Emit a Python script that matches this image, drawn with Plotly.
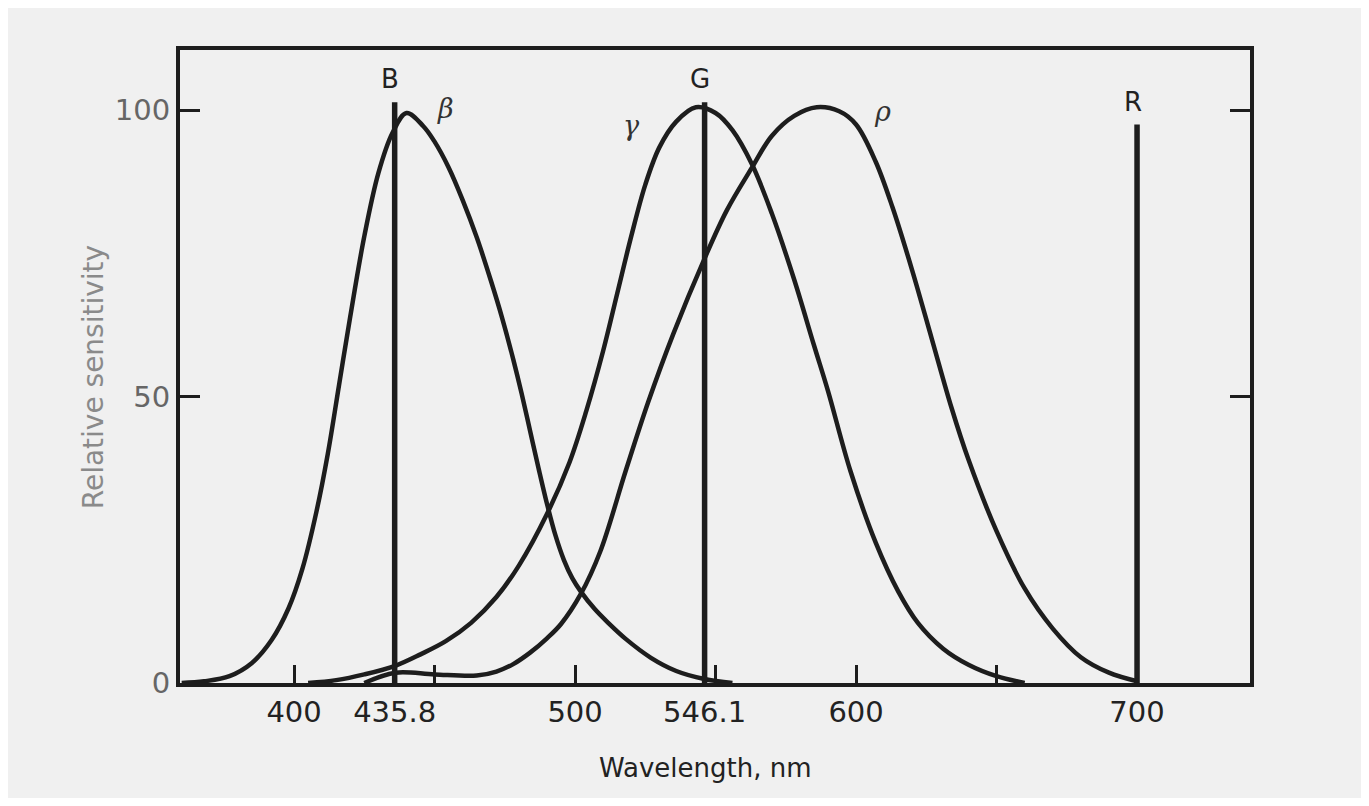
import plotly.graph_objects as go

# ── Data (wavelength nm, relative sensitivity) ────────────────────────────────

beta_nm  = [360, 368, 377, 385, 392, 398, 403, 408, 412, 416, 420, 425, 430,
            435, 440, 446, 450, 455, 460, 465, 470, 474, 478, 481, 484, 487,
            490, 493, 496, 499, 502, 507, 512, 518, 527, 536, 546, 556]
beta_val = [0, 0.3, 1.2, 3.5, 7.5, 13, 20, 30, 40, 52, 64, 78, 89,
            96, 99.5, 97.2, 94.5, 90, 84.3, 77.8, 70.3, 63.8, 56.5, 50.5, 44, 37.5,
            31.3, 25.8, 21.5, 18.3, 16, 12.9, 10.4, 7.7, 4.4, 2.1, 0.7, 0]

gamma_nm  = [405, 415, 425, 436, 445, 454, 463, 472, 480, 490, 498, 504, 510,
             515, 520, 525, 530, 536, 543, 550, 556, 563, 570, 578, 585, 590,
             598, 607, 615, 622, 631, 640, 650, 660]
gamma_val = [0, 0.5, 1.5, 3, 5, 7.3, 10.5, 15, 20.5, 29.5, 38.5, 47.5, 58,
             68, 78, 87, 93.5, 98, 100.5, 99.5, 96.5, 90.5, 82, 70.4, 59, 51,
             37, 24.5, 16, 10.5, 6, 3.2, 1.2, 0]

rho_nm  = [425, 436, 450, 465, 472, 478, 484, 490, 495, 502, 509, 518, 526,
           535, 546, 554, 563, 570, 578, 586, 594, 600, 607, 613, 620, 627,
           634, 640, 650, 660, 670, 680, 690, 700]
rho_val = [0, 1.8, 1.5, 1.3, 2, 3.3, 5.3, 7.8, 10.3, 15.5, 23, 37, 49,
           61, 74, 82.5, 90, 95.5, 99, 100.5, 99.8, 97.5, 91, 83, 72, 60,
           48, 39, 26.5, 16.5, 9.5, 4.5, 1.8, 0.3]

# primaries (monochromatic lines)
prim_names = ["B", "G", "R"]
prim_nm    = [435.8, 546.1, 700]
prim_top   = [101.4, 101.4, 97.5]

# curve labels
curve_names = ["β", "γ", "ρ"]
curve_lbl_x = [454, 520, 609.5]
curve_lbl_y = [100.3, 97.3, 99.7]

x_ticks  = [400, 435.8, 450, 500, 546.1, 550, 600, 650, 700]
x_labels = ["400", "435.8", "", "500", "546.1", "", "600", "", "700"]
top_ticks = [400, 450, 500, 550, 600, 650, 700]
y_ticks  = [0, 50, 100]

INK  = "#1d1d1d"
BG   = "#f0f0f0"
FONT = "DejaVu Sans, sans-serif"

fig = go.Figure()

for xs, ys in [(beta_nm, beta_val), (gamma_nm, gamma_val), (rho_nm, rho_val)]:
    fig.add_trace(go.Scatter(
        x=xs, y=ys, mode="lines",
        line=dict(color=INK, width=4.5, shape="spline", smoothing=1.0),
        hoverinfo="skip",
    ))

for name, wl, top in zip(prim_names, prim_nm, prim_top):
    fig.add_trace(go.Scatter(
        x=[wl, wl], y=[0, top], mode="lines",
        line=dict(color=INK, width=5.5),
        hoverinfo="skip",
    ))
    fig.add_annotation(
        x=wl - 1.5, y=top + 4, text=name, showarrow=False,
        font=dict(family=FONT, size=26, color="#222"),
        yanchor="middle",
    )

for name, lx, ly in zip(curve_names, curve_lbl_x, curve_lbl_y):
    fig.add_annotation(
        x=lx, y=ly, text=f"<i>{name}</i>", showarrow=False,
        font=dict(family="DejaVu Serif, serif", size=27, color="#333"),
    )

# axis titles
fig.add_annotation(
    x=-0.0813, y=0.483, xref="paper", yref="paper",
    xanchor="center", yanchor="middle",
    text="Relative sensitivity", textangle=-90, showarrow=False,
    font=dict(family=FONT, size=28, color="#8a8a8a"),
)
fig.add_annotation(
    x=0.4907, y=-0.134, xref="paper", yref="paper",
    xanchor="center", yanchor="middle",
    text="Wavelength, nm", showarrow=False,
    font=dict(family=FONT, size=26, color="#222"),
)

# page body adds an 8px margin, so the figure is sized to fit inside it
fig.update_layout(
    width=1353, height=790,
    margin=dict(l=172, r=111, t=42, b=115),
    paper_bgcolor=BG,
    plot_bgcolor=BG,
    showlegend=False,
    xaxis=dict(
        range=[359.4, 740.2],
        tickvals=x_ticks, ticktext=x_labels,
        ticks="inside", ticklen=18, tickwidth=3, tickcolor=INK,
        showline=True, linewidth=4, linecolor=INK, mirror=True,
        showgrid=False, zeroline=False,
        tickfont=dict(family=FONT, size=29, color="#222"),
        ticklabelstandoff=0,
    ),
    xaxis2=dict(
        range=[359.4, 740.2], overlaying="x", side="top",
        tickvals=top_ticks,
        ticks="inside", ticklen=18, tickwidth=3, tickcolor=INK,
        showticklabels=False, showgrid=False, zeroline=False,
    ),
    yaxis=dict(
        range=[0, 110.5],
        tickvals=y_ticks,
        ticks="inside", ticklen=20, tickwidth=3, tickcolor=INK,
        showline=True, linewidth=4, linecolor=INK, mirror="ticks",
        showgrid=False, zeroline=False,
        tickfont=dict(family=FONT, size=29, color="#666"),
        ticklabelstandoff=0,
    ),
)

fig.write_html("out.html")
